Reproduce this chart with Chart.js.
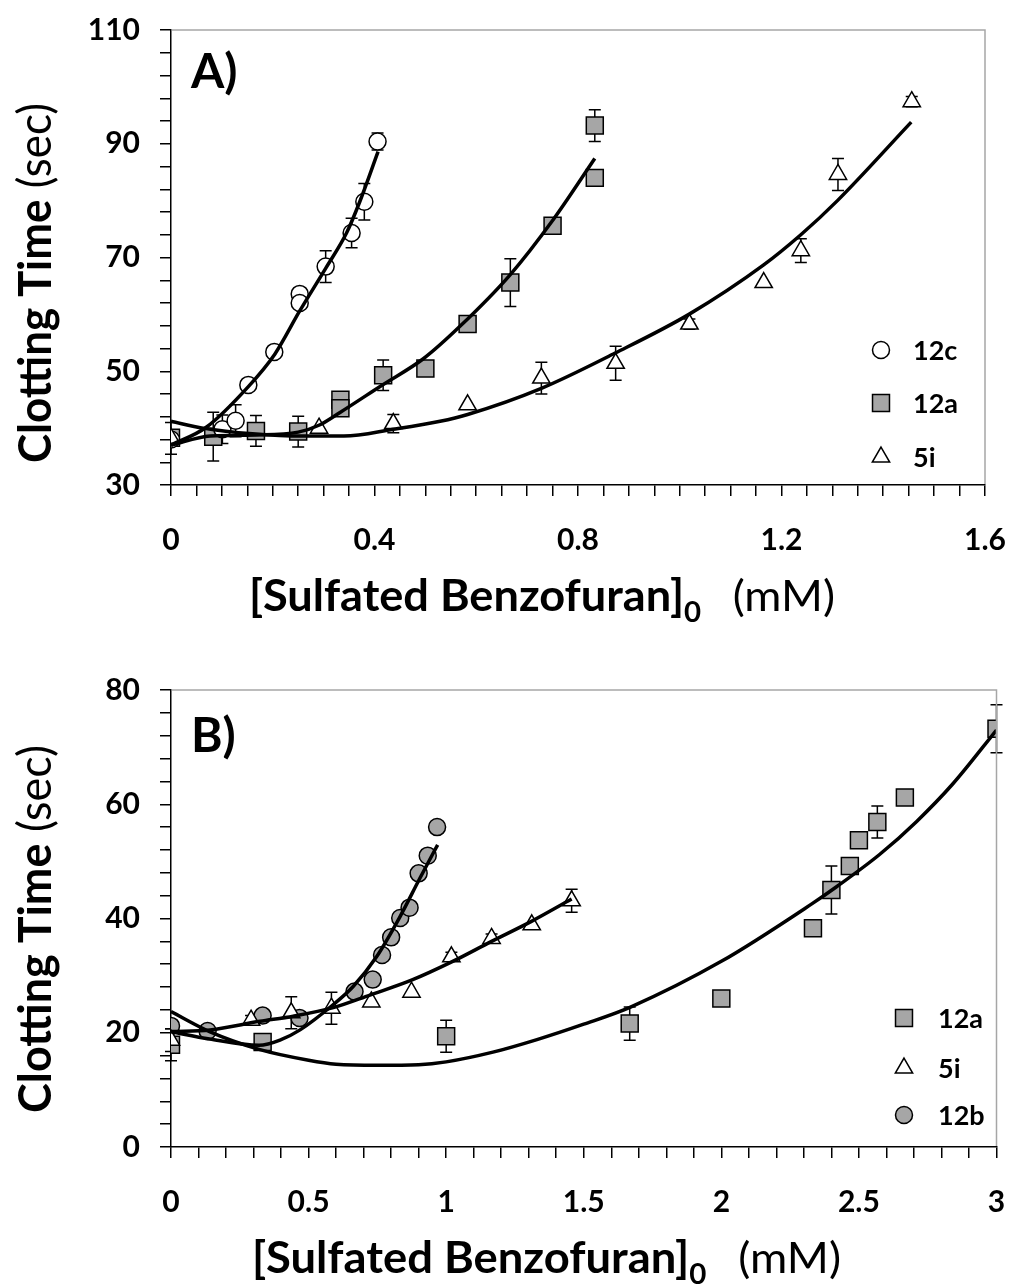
<!DOCTYPE html>
<html>
<head>
<meta charset="utf-8">
<script src="https://cdn.jsdelivr.net/npm/chart.js@4.4.1/dist/chart.umd.min.js"></script>
<style>
  body { margin: 0; background: #fff; }
  .caja { position: absolute; left: 0; }
</style>
</head>
<body>
<div class="caja" style="top:0"><canvas id="chartA" width="1010" height="645"></canvas></div>
<div class="caja" style="top:645px"><canvas id="chartB" width="1010" height="643"></canvas></div>
<script>
// ---------- Panel A ----------
const xA_12c = [0, 0.101, 0.127, 0.152, 0.203, 0.253, 0.253, 0.304, 0.355, 0.380, 0.406];
const yA_12c = [38.0, 39.8, 41.3, 47.6, 53.4, 63.6, 62.0, 68.4, 74.3, 79.8, 90.4];
const eA_12c = [0, 2.5, 2.8, 0.8, 0.8, 0.8, 0, 2.8, 2.6, 3.2, 1.5];

const xA_12a = [0, 0.083, 0.167, 0.250, 0.333, 0.333, 0.417, 0.500, 0.583, 0.667, 0.750, 0.833, 0.833];
const yA_12a = [38.3, 38.5, 39.5, 39.4, 45.0, 43.5, 49.3, 50.5, 58.3, 65.6, 75.6, 93.2, 84.0];
const eA_12a = [0, 4.3, 2.7, 2.7, 0.8, 0, 2.7, 0, 0.8, 4.2, 0.8, 2.8, 0.9];

const xA_5i = [0, 0.291, 0.437, 0.583, 0.728, 0.874, 1.019, 1.165, 1.238, 1.311, 1.456];
const yA_5i = [38.2, 40.0, 40.8, 44.1, 48.8, 51.4, 58.3, 65.6, 71.2, 84.6, 97.4];
const eA_5i = [2.8, 0, 1.6, 0, 2.8, 3.0, 0.9, 0, 2.1, 2.8, 0.9];

// curvas de ajuste
const xFitA_12c = [0, 0.070, 0.152, 0.204, 0.253, 0.304, 0.345, 0.371, 0.407];
const yFitA_12c = [37.0, 40.2, 47.3, 53.0, 60.6, 68.1, 74.3, 79.8, 88.6];
const xFitA_12a = [0, 0.077, 0.168, 0.250, 0.293, 0.333, 0.414, 0.496, 0.568, 0.667, 0.750, 0.833];
const yFitA_12a = [37.0, 38.6, 38.8, 39.3, 40.6, 42.8, 47.5, 52.2, 57.9, 67.0, 76.5, 87.4];
const xFitA_5i = [0, 0.063, 0.160, 0.260, 0.340, 0.437, 0.529, 0.583, 0.728, 0.873, 1.018, 1.165, 1.238, 1.310, 1.455];
const yFitA_5i = [41.2, 40.0, 39.0, 38.6, 38.6, 39.8, 41.2, 42.4, 47.0, 53.2, 60.0, 68.7, 74.0, 80.0, 93.8];

// ---------- Panel B ----------
const xB_12a = [0, 0.333, 1.0, 1.667, 2.0, 2.333, 2.4, 2.467, 2.5, 2.567, 2.667, 3.0];
const yB_12a = [17.9, 18.4, 19.4, 21.6, 26.0, 38.3, 45.0, 49.2, 53.7, 56.9, 61.2, 73.2];
const eB_12a = [2.8, 0.8, 2.8, 2.9, 0, 0.8, 4.2, 0, 0, 2.8, 0.6, 4.2];

const xB_5i = [0, 0.291, 0.437, 0.583, 0.728, 0.874, 1.019, 1.165, 1.311, 1.456];
const yB_5i = [18.7, 22.2, 23.5, 24.3, 25.4, 27.1, 33.3, 36.5, 38.9, 43.1];
const eB_5i = [2.0, 0.8, 2.8, 2.8, 0, 0, 0.8, 0.8, 0, 2.0];

const xB_12b = [0, 0.133, 0.333, 0.467, 0.667, 0.733, 0.767, 0.800, 0.833, 0.867, 0.900, 0.933, 0.967];
const yB_12b = [21.2, 20.3, 23.0, 22.6, 27.2, 29.3, 33.6, 36.7, 40.1, 41.9, 47.9, 51.0, 56.0];

const xFitB_12a = [0, 0.14, 0.32, 0.5, 0.6, 0.75, 0.9, 1.0, 1.17, 1.33, 1.5, 1.67, 2.0, 2.33, 2.42, 2.575, 2.71, 2.84, 3.0];
const yFitB_12a = [23.7, 20.2, 17.1, 15.2, 14.5, 14.3, 14.4, 14.9, 16.6, 18.8, 21.5, 24.5, 32.5, 42.6, 45.6, 51.2, 57.0, 63.5, 73.0];
const xFitB_12b = [0, 0.14, 0.32, 0.40, 0.469, 0.589, 0.662, 0.747, 0.832, 0.904, 0.969];
const yFitB_12b = [20.2, 18.9, 17.8, 18.8, 20.5, 24.9, 28.1, 33.3, 40.3, 47.0, 52.9];
const xFitB_5i = [0, 0.142, 0.323, 0.444, 0.59, 0.723, 0.874, 1.02, 1.165, 1.31, 1.456];
const yFitB_5i = [20.2, 20.5, 22.0, 22.9, 24.4, 26.6, 29.2, 32.4, 36.0, 39.5, 43.4];

const FUENTE = "Lato, 'Open Sans', sans-serif";
const GRIS = '#a6a6a6';

const pares = (xs, ys) => xs.map((x, i) => ({ x: x, y: ys[i] }));

function serie(label, xs, ys, errs, estilo, relleno, radio) {
    return {
        label: label,
        data: pares(xs, ys),
        errores: errs,
        pointStyle: estilo,
        pointRadius: radio,
        pointBackgroundColor: relleno,
        pointBorderColor: '#000',
        pointBorderWidth: 1.5,
        backgroundColor: relleno,
        borderColor: '#000',
        showLine: false,
    };
}

function ajuste(xs, ys) {
    return {
        label: '',
        data: pares(xs, ys),
        showLine: true,
        pointRadius: 0,
        borderColor: '#000',
        borderWidth: 3.5,
        cubicInterpolationMode: 'monotone',
        fill: false,
    };
}

// barras de error (detras de los marcadores)
const barrasError = {
    id: 'barrasError',
    beforeDatasetsDraw(chart) {
        const ctx = chart.ctx;
        const sx = chart.scales.x;
        const sy = chart.scales.y;
        ctx.save();
        ctx.strokeStyle = '#000';
        ctx.lineWidth = 1.5;
        chart.data.datasets.forEach((ds) => {
            if (!ds.errores) return;
            ds.data.forEach((p, i) => {
                const e = ds.errores[i];
                if (!e) return;
                const px = sx.getPixelForValue(p.x);
                const y1 = sy.getPixelForValue(p.y + e);
                const y2 = sy.getPixelForValue(p.y - e);
                ctx.beginPath();
                ctx.moveTo(px, y1); ctx.lineTo(px, y2);
                ctx.moveTo(px - 6, y1); ctx.lineTo(px + 6, y1);
                ctx.moveTo(px - 6, y2); ctx.lineTo(px + 6, y2);
                ctx.stroke();
            });
        });
        ctx.restore();
    }
};

// marco gris, titulos, etiqueta del panel y leyenda
const textos = {
    id: 'textos',
    afterDraw(chart, args, o) {
        const ctx = chart.ctx;
        const a = chart.chartArea;
        ctx.save();
        ctx.strokeStyle = GRIS;
        ctx.lineWidth = 1.5;
        ctx.beginPath();
        ctx.moveTo(a.left + 1, a.top);
        ctx.lineTo(a.right, a.top);
        ctx.lineTo(a.right, a.bottom - 1);
        ctx.stroke();

        ctx.fillStyle = '#000';
        ctx.textBaseline = 'alphabetic';
        ctx.textAlign = 'left';

        // etiqueta del panel
        ctx.font = 'bold 48px ' + FUENTE;
        ctx.fillText(o.panel, o.panelX, o.panelY);

        // titulo eje Y
        const ty = o.tituloY;
        ctx.font = 'bold ' + ty.size + 'px ' + FUENTE;
        const wb = ctx.measureText('Clotting Time').width;
        ctx.font = ty.size + 'px ' + FUENTE;
        const wr = ctx.measureText(' (sec)').width;
        const ky = ty.largo / (wb + wr);
        ctx.save();
        ctx.translate(ty.base, ty.cy);
        ctx.rotate(-Math.PI / 2);
        ctx.scale(ky, 1);
        const x0 = -(wb + wr) / 2;
        ctx.font = 'bold ' + ty.size + 'px ' + FUENTE;
        ctx.fillText('Clotting Time', x0, 0);
        ctx.font = ty.size + 'px ' + FUENTE;
        ctx.fillText(' (sec)', x0 + wb, 0);
        ctx.restore();

        // titulo eje X
        const tx = o.tituloX;
        const subSize = Math.round(tx.size * 0.66);
        ctx.font = 'bold ' + tx.size + 'px ' + FUENTE;
        const w1 = ctx.measureText('[Sulfated Benzofuran]').width;
        ctx.font = 'bold ' + subSize + 'px ' + FUENTE;
        const w2 = ctx.measureText('0').width;
        const hueco = tx.size * 0.7;
        ctx.font = tx.size + 'px ' + FUENTE;
        const w3 = ctx.measureText('(mM)').width;
        const kx = tx.ancho / (w1 + w2 + hueco + w3);
        ctx.save();
        ctx.translate(tx.x, tx.base);
        ctx.scale(kx, 1);
        ctx.font = 'bold ' + tx.size + 'px ' + FUENTE;
        ctx.fillText('[Sulfated Benzofuran]', 0, 0);
        ctx.font = 'bold ' + subSize + 'px ' + FUENTE;
        ctx.fillText('0', w1, 11);
        ctx.font = tx.size + 'px ' + FUENTE;
        ctx.fillText('(mM)', w1 + w2 + hueco, 0);
        ctx.restore();

        // leyenda
        const ley = o.leyenda;
        ctx.font = 'bold 27px ' + FUENTE;
        ctx.textBaseline = 'middle';
        ley.items.forEach((nombre, i) => {
            const ds = chart.data.datasets.find((d) => d.label === nombre);
            const y = ley.filas[i];
            ctx.fillStyle = ds.pointBackgroundColor;
            ctx.strokeStyle = '#000';
            ctx.lineWidth = 1.5;
            Chart.helpers.drawPoint(ctx, {
                pointStyle: ds.pointStyle,
                radius: ds.pointRadius,
                rotation: 0,
                borderWidth: 1.5,
            }, ley.xm, y);
            ctx.fillStyle = '#000';
            ctx.fillText(nombre, ley.xt, y + 1);
        });
        ctx.restore();
    }
};

function crearGrafico(id, c) {
    return new Chart(document.getElementById(id), {
        type: 'scatter',
        data: { datasets: c.datasets },
        plugins: [barrasError, textos],
        options: {
            responsive: false,
            animation: false,
            devicePixelRatio: 1,
            layout: { padding: { top: c.padTop, right: c.padRight, left: 0, bottom: 0 } },
            plugins: {
                legend: { display: false },
                tooltip: { enabled: false },
                textos: c.textos,
            },
            scales: {
                x: {
                    type: 'linear',
                    min: c.xMin,
                    max: c.xMax,
                    afterFit: (s) => {
                        s.height = c.altoX;
                        s.paddingLeft = 0;
                        s.paddingRight = 0;
                    },
                    border: { color: '#000', width: 1.5 },
                    grid: { drawOnChartArea: false, tickLength: 11, color: '#000', lineWidth: 1.5 },
                    ticks: {
                        stepSize: c.xPaso,
                        maxTicksLimit: 200,
                        autoSkip: false,
                        maxRotation: 0,
                        minRotation: 0,
                        padding: 26,
                        color: '#000',
                        font: { family: FUENTE, weight: 'bold', size: 30 },
                        callback: c.xEtiqueta,
                    },
                },
                y: {
                    type: 'linear',
                    min: c.yMin,
                    max: c.yMax,
                    afterFit: (s) => {
                        s.width = 171;
                        s.paddingTop = 0;
                        s.paddingBottom = 0;
                    },
                    border: { color: '#000', width: 1.5 },
                    grid: { drawOnChartArea: false, tickLength: 11, color: '#000', lineWidth: 1.5 },
                    ticks: {
                        stepSize: 4,
                        maxTicksLimit: 200,
                        autoSkip: false,
                        padding: 20,
                        color: '#000',
                        font: { family: FUENTE, weight: 'bold', size: 30 },
                        callback: c.yEtiqueta,
                    },
                },
            },
        },
    });
}

crearGrafico('chartA', {
    datasets: [
        ajuste(xFitA_12c, yFitA_12c),
        ajuste(xFitA_12a, yFitA_12a),
        ajuste(xFitA_5i, yFitA_5i),
        serie('5i', xA_5i, yA_5i, eA_5i, 'triangle', '#fff', 10),
        serie('12c', xA_12c, yA_12c, eA_12c, 'circle', '#fff', 8.5),
        serie('12a', xA_12a, yA_12a, eA_12a, 'rect', GRIS, 12),
    ],
    padTop: 30, padRight: 25, altoX: 160,
    xMin: 0, xMax: 1.6, xPaso: 0.05,
    yMin: 30, yMax: 110,
    xEtiqueta: (v) => (Math.round(v * 100) % 40 === 0 ? String(Math.round(v * 10) / 10) : ''),
    yEtiqueta: (v) => ((Math.round(v) - 30) % 20 === 0 ? String(Math.round(v)) : ''),
    textos: {
        panel: 'A)', panelX: 191, panelY: 88,
        tituloY: { size: 46, base: 51, cy: 283, largo: 360 },
        tituloX: { size: 43, x: 249, base: 611, ancho: 586 },
        leyenda: { xm: 881, xt: 913, filas: [350, 403, 457], items: ['12c', '12a', '5i'] },
    },
});

crearGrafico('chartB', {
    datasets: [
        ajuste(xFitB_12a, yFitB_12a),
        ajuste(xFitB_5i, yFitB_5i),
        ajuste(xFitB_12b, yFitB_12b),
        serie('5i', xB_5i, yB_5i, eB_5i, 'triangle', '#fff', 10),
        serie('12b', xB_12b, yB_12b, null, 'circle', GRIS, 8.5),
        serie('12a', xB_12a, yB_12a, eB_12a, 'rect', GRIS, 12),
    ],
    padTop: 45, padRight: 13, altoX: 141,
    xMin: 0, xMax: 3, xPaso: 0.1,
    yMin: 0, yMax: 80,
    xEtiqueta: (v) => (Math.round(v * 10) % 5 === 0 ? String(Math.round(v * 10) / 10) : ''),
    yEtiqueta: (v) => (Math.round(v) % 20 === 0 ? String(Math.round(v)) : ''),
    textos: {
        panel: 'B)', panelX: 191, panelY: 107,
        tituloY: { size: 46, base: 51, cy: 284, largo: 368 },
        tituloX: { size: 43, x: 252, base: 628, ancho: 589 },
        leyenda: { xm: 904, xt: 938, filas: [373, 423, 470], items: ['12a', '5i', '12b'] },
    },
});
</script>
</body>
</html>
